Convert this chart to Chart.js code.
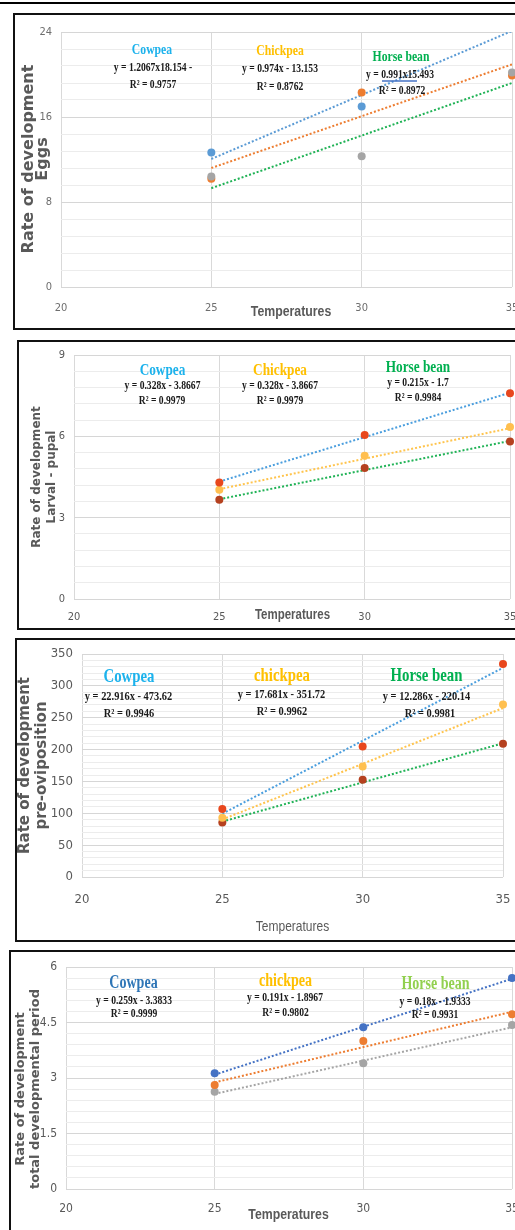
<!DOCTYPE html>
<html>
<head>
<meta charset="utf-8">
<script src="https://cdn.jsdelivr.net/npm/chart.js@4.4.1/dist/chart.umd.min.js"></script>
<style>
  html, body { margin: 0; padding: 0; background: #fff; }
  body { width: 515px; height: 1230px; overflow: hidden; position: relative; }
  .topline { position: absolute; left: 0; top: 2px; width: 515px; height: 2px; background: #000; }
  .panel { position: absolute; border: 2px solid #111; background: #fff; }
  .panel canvas { display: block; }
</style>
</head>
<body>
<div class="topline"></div>
<div class="panel" style="left:13px; top:13px;"><canvas id="eggs" width="505" height="313"></canvas></div>
<div class="panel" style="left:17px; top:340px;"><canvas id="larval" width="501" height="286"></canvas></div>
<div class="panel" style="left:15px; top:638px;"><canvas id="preovi" width="503" height="300"></canvas></div>
<div class="panel" style="left:9px; top:950px;"><canvas id="total" width="509" height="280"></canvas></div>

<script>
// shared
const temps = [25, 30, 35];
const trendX = [25, 35];
const xTicks = [20, 25, 30, 35];
const xTitle = 'Temperatures';

// eggs
const eggsNames = ['Cowpea', 'Chickpea', 'Horse bean'];
const eggsTicks = [0, 8, 16, 24];
const eggsCowpea = [12.65, 17.0, 24.4];
const eggsChickpea = [10.2, 18.3, 19.9];
const eggsHorseBean = [10.4, 12.3, 20.2];
const eggsTrendCowpea = [12.05, 24.1];
const eggsTrendChickpea = [11.2, 20.95];
const eggsTrendHorseBean = [9.3, 19.2];
const eggsEquations = ['y = 1.2067x18.154 -', 'y = 0.974x - 13.153', 'y = 0.991x15.493'];
const eggsR2 = ['R\u00b2 = 0.9757', 'R\u00b2 = 0.8762', 'R\u00b2 = 0.8972'];
const eggsYTitle = ['Rate of development', 'Eggs'];

// larval - pupal
const larvalNames = ['Cowpea', 'Chickpea', 'Horse bean'];
const larvalTicks = [0, 3, 6, 9];
const larvalCowpea = [4.30, 6.05, 7.59];
const larvalChickpea = [4.03, 5.28, 6.34];
const larvalHorseBean = [3.66, 4.83, 5.81];
const larvalTrendCowpea = [4.33, 7.61];
const larvalTrendChickpea = [4.05, 6.3];
const larvalTrendHorseBean = [3.68, 5.83];
const larvalEquations = ['y = 0.328x - 3.8667', 'y = 0.328x - 3.8667', 'y = 0.215x - 1.7'];
const larvalR2 = ['R\u00b2 = 0.9979', 'R\u00b2 = 0.9979', 'R\u00b2 = 0.9984'];
const larvalYTitle = ['Rate of development', 'Larval - pupal'];

// pre-oviposition
const preoviNames = ['Cowpea', 'chickpea', 'Horse bean'];
const preoviTicks = [0, 50, 100, 150, 200, 250, 300, 350];
const preoviCowpea = [106.6, 204.8, 334.4];
const preoviChickpea = [93, 173.5, 270.6];
const preoviHorseBean = [85.7, 152.6, 209];
const preoviTrendCowpea = [99.3, 328.4];
const preoviTrendChickpea = [90.3, 265.1];
const preoviTrendHorseBean = [87.0, 209.9];
const preoviEquations = ['y = 22.916x - 473.62', 'y = 17.681x - 351.72', 'y = 12.286x - 220.14'];
const preoviR2 = ['R\u00b2 = 0.9946', 'R\u00b2 = 0.9962', 'R\u00b2 = 0.9981'];
const preoviYTitle = ['Rate of development', 'pre-oviposition'];

// total developmental period
const totalNames = ['Cowpea', 'chickpea', 'Horse bean'];
const totalTicks = [0, 1.5, 3, 4.5, 6];
const totalCowpea = [3.13, 4.37, 5.70];
const totalChickpea = [2.81, 4.00, 4.72];
const totalHorseBean = [2.63, 3.40, 4.43];
const totalTrendCowpea = [3.09, 5.68];
const totalTrendChickpea = [2.88, 4.79];
const totalTrendHorseBean = [2.57, 4.37];
const totalEquations = ['y = 0.259x - 3.3833', 'y = 0.191x - 1.8967', 'y = 0.18x - 1.9333'];
const totalR2 = ['R\u00b2 = 0.9999', 'R\u00b2 = 0.9802', 'R\u00b2 = 0.9931'];
const totalYTitle = ['Rate of development', 'total developmental period'];

const SERIF = "'Liberation Serif', 'Times New Roman', serif";
const VERDANA = "'DejaVu Sans', Verdana, sans-serif";
const ARIAL = "'Liberation Sans', Arial, sans-serif";
const NARROW = "'Liberation Sans Narrow', 'Arial Narrow', 'DejaVu Sans Condensed', sans-serif";
const CLEAR = 'rgba(0,0,0,0)';

function drawText(ctx, text, x, y, font, color, sx) {
    ctx.save();
    ctx.font = font;
    ctx.fillStyle = color;
    ctx.textAlign = 'center';
    ctx.textBaseline = 'middle';
    ctx.translate(x, y);
    ctx.scale(sx, 1);
    ctx.fillText(text, 0, 0);
    ctx.restore();
}

function makeChart(id, d, L) {
    const canvas = document.getElementById(id);
    const W = canvas.width, H = canvas.height;
    const major = d.ticks[1] - d.ticks[0];
    const minor = major / 5;
    const isMajor = v => Math.abs(v / major - Math.round(v / major)) < 1e-6;
    const pts = vals => temps.map((t, i) => ({ x: t, y: vals[i] }));
    const seg = vals => trendX.map((t, i) => ({ x: t, y: vals[i] }));

    const datasets = [];
    d.points.forEach((vals, i) => datasets.push({
        data: pts(vals),
        backgroundColor: L.pointColors[i],
        borderColor: L.pointColors[i],
        pointRadius: 4, pointHoverRadius: 4, borderWidth: 0,
        showLine: false, order: L.pointOrder ? L.pointOrder[i] : 0,
        clip: { left: 6, right: 6, top: 0, bottom: 6 }
    }));
    d.trends.forEach((vals, i) => datasets.push({
        data: seg(vals),
        borderColor: L.trendColors[i],
        borderWidth: 2, borderDash: [2, 2],
        pointRadius: 0, showLine: true, order: 5
    }));

    const textPlugin = {
        id: 'panelText',
        afterDraw(chart) {
            const ctx = chart.ctx;
            for (let i = 0; i < 3; i++) {
                drawText(ctx, d.names[i], L.names[i][0], L.names[i][1], `bold ${L.nameSize}px ${SERIF}`, L.nameColors[i], 0.78);
                drawText(ctx, d.equations[i], L.eqs[i][0], L.eqs[i][1], `bold ${L.eqSize}px ${SERIF}`, '#1a1a1a', 0.8);
                drawText(ctx, d.r2[i], L.r2[i][0], L.r2[i][1], `bold ${L.eqSize}px ${SERIF}`, '#1a1a1a', 0.8);
            }
            if (L.underline) {
                ctx.save();
                ctx.strokeStyle = '#4472c4';
                ctx.lineWidth = 1.5;
                ctx.beginPath();
                ctx.moveTo(L.underline[0], L.underline[2]);
                ctx.lineTo(L.underline[1], L.underline[2]);
                ctx.stroke();
                ctx.restore();
            }
            // y axis title, two lines
            d.yTitle.forEach((t, i) => {
                ctx.save();
                ctx.translate(L.yTitle.x[i], L.yTitle.y);
                ctx.rotate(-Math.PI / 2);
                ctx.font = `bold ${L.yTitle.size}px ${VERDANA}`;
                ctx.fillStyle = '#595959';
                ctx.textAlign = 'center';
                ctx.textBaseline = 'middle';
                ctx.fillText(t, 0, 0);
                ctx.restore();
            });
            drawText(ctx, xTitle, L.xTitle.x, L.xTitle.y, `${L.xTitle.weight} ${L.xTitle.size}px ${ARIAL}`, '#595959', L.xTitle.sx);
        }
    };

    return new Chart(canvas, {
        type: 'scatter',
        data: { datasets },
        options: {
            responsive: false,
            animation: false,
            devicePixelRatio: 1,
            layout: { padding: { top: L.area[1], right: W - L.area[2], left: 0, bottom: 0 } },
            plugins: { legend: { display: false }, tooltip: { enabled: false } },
            scales: {
                x: {
                    type: 'linear', min: xTicks[0], max: xTicks[xTicks.length - 1],
                    afterBuildTicks: s => { s.ticks = xTicks.map(v => ({ value: v })); },
                    afterFit: s => { s.height = H - L.area[3]; },
                    grid: { color: '#d9d9d9', drawTicks: true, tickLength: L.xTickPad, tickColor: CLEAR },
                    border: { display: false },
                    ticks: { padding: 0, color: L.tickColor, autoSkip: false, maxRotation: 0,
                             font: { family: NARROW, size: L.tickSize } }
                },
                y: {
                    type: 'linear', min: d.ticks[0], max: d.ticks[d.ticks.length - 1],
                    afterFit: s => { s.width = L.area[0]; },
                    grid: { color: c => isMajor(c.tick.value) ? '#d6d6d6' : '#ececec',
                            drawTicks: true, tickLength: 9, tickColor: CLEAR },
                    border: { display: false },
                    ticks: { stepSize: minor, autoSkip: false, padding: 0, color: L.tickColor,
                             font: { family: NARROW, size: L.tickSize },
                             callback: v => isMajor(v) ? String(Math.round(v * 10) / 10) : '' }
                }
            }
        },
        plugins: [textPlugin]
    });
}

makeChart('eggs', {
    names: eggsNames, ticks: eggsTicks,
    points: [eggsCowpea, eggsChickpea, eggsHorseBean],
    trends: [eggsTrendCowpea, eggsTrendChickpea, eggsTrendHorseBean],
    equations: eggsEquations, r2: eggsR2, yTitle: eggsYTitle
}, {
    area: [46, 17, 497, 272],
    pointColors: ['#5b9bd5', '#ed7d31', '#a5a5a5'],
    pointOrder: [0, 1, 0],
    trendColors: ['#5b9bd5', '#ed7d31', '#1fb255'],
    nameColors: ['#1cb2ec', '#ffc000', '#00b050'],
    names: [[137, 35], [265, 36], [386, 42]], nameSize: 15,
    eqs: [[138, 53], [265, 54], [385, 60]], eqSize: 12,
    r2: [[138, 70], [265, 72], [387, 76]],
    underline: [367, 402, 66],
    yTitle: { x: [14, 28], y: 144, size: 16 },
    xTitle: { x: 276, y: 297, size: 15, weight: 'bold', sx: 0.82 },
    tickSize: 11, tickColor: '#6e6e6e', xTickPad: 15
});

makeChart('larval', {
    names: larvalNames, ticks: larvalTicks,
    points: [larvalCowpea, larvalChickpea, larvalHorseBean],
    trends: [larvalTrendCowpea, larvalTrendChickpea, larvalTrendHorseBean],
    equations: larvalEquations, r2: larvalR2, yTitle: larvalYTitle
}, {
    area: [55, 13, 491, 257],
    pointColors: ['#e8471d', '#ffbf4f', '#b5411f'],
    trendColors: ['#4a9ede', '#ffc44d', '#21b357'],
    nameColors: ['#1cb2ec', '#ffc000', '#00b050'],
    names: [[143.5, 29], [261, 29], [399, 26]], nameSize: 17,
    eqs: [[143.5, 44], [261, 44], [399, 41]], eqSize: 12,
    r2: [[143, 59], [261, 59], [399, 56]],
    yTitle: { x: [18, 33], y: 135, size: 12 },
    xTitle: { x: 273.5, y: 273, size: 14, weight: 'bold', sx: 0.82 },
    tickSize: 11, tickColor: '#595959', xTickPad: 12
});

makeChart('preovi', {
    names: preoviNames, ticks: preoviTicks,
    points: [preoviCowpea, preoviChickpea, preoviHorseBean],
    trends: [preoviTrendCowpea, preoviTrendChickpea, preoviTrendHorseBean],
    equations: preoviEquations, r2: preoviR2, yTitle: preoviYTitle
}, {
    area: [65, 14, 486, 237],
    pointColors: ['#e8471d', '#ffc04f', '#b5411f'],
    trendColors: ['#4a9ede', '#ffc44d', '#21b357'],
    nameColors: ['#1cb2ec', '#ffc000', '#00b050'],
    names: [[112, 37], [265, 36], [409.5, 36]], nameSize: 19,
    eqs: [[111.5, 57], [264.5, 55], [409.5, 57]], eqSize: 13,
    r2: [[112, 74], [265, 72], [413, 74]],
    yTitle: { x: [8, 25], y: 125.5, size: 15 },
    xTitle: { x: 275.5, y: 287, size: 15, weight: 'normal', sx: 0.8 },
    tickSize: 13, tickColor: '#595959', xTickPad: 15
});

makeChart('total', {
    names: totalNames, ticks: totalTicks,
    points: [totalCowpea, totalChickpea, totalHorseBean],
    trends: [totalTrendCowpea, totalTrendChickpea, totalTrendHorseBean],
    equations: totalEquations, r2: totalR2, yTitle: totalYTitle
}, {
    area: [55, 15, 501, 237],
    pointColors: ['#4472c4', '#ed7d31', '#a5a5a5'],
    trendColors: ['#4472c4', '#ed7d31', '#a5a5a5'],
    nameColors: ['#2e75b6', '#ffc000', '#92d050'],
    names: [[122.5, 31], [274.5, 29], [424.5, 32]], nameSize: 18,
    eqs: [[123, 49], [274, 46], [424, 50]], eqSize: 12,
    r2: [[123, 62], [274.5, 61], [424, 63]],
    yTitle: { x: [10, 25], y: 137, size: 13 },
    xTitle: { x: 277.5, y: 263, size: 15, weight: 'bold', sx: 0.82 },
    tickSize: 12, tickColor: '#595959', xTickPad: 13
});
</script>
</body>
</html>
